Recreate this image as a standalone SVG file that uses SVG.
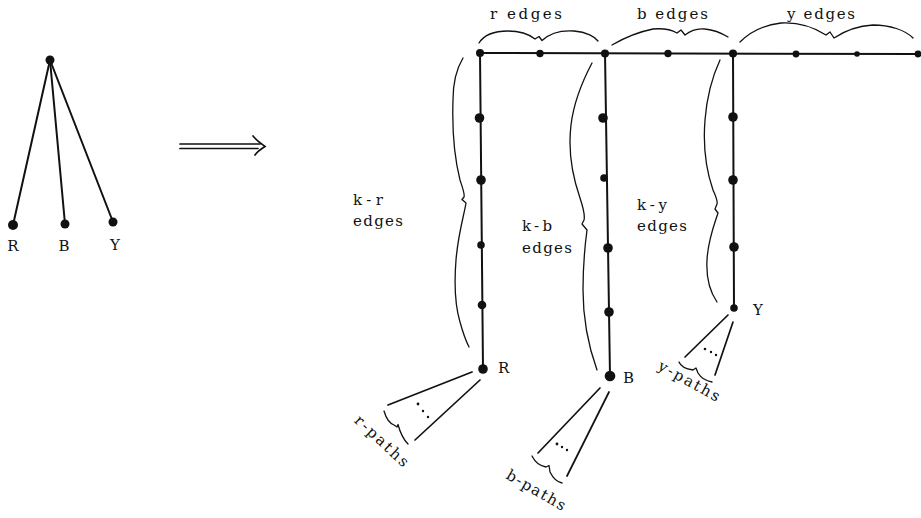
<svg xmlns="http://www.w3.org/2000/svg" width="921" height="518" viewBox="0 0 921 518">
  <style>
    .edge { stroke: #111; stroke-width: 2; fill: none; stroke-linecap: round; }
    .thin { stroke: #111; stroke-width: 1.7; fill: none; stroke-linecap: round; }
    .brace { stroke: #111; stroke-width: 1.3; fill: none; stroke-linecap: round; stroke-linejoin: round; }
    .node { fill: #111; }
    .lbl { font-family: "DejaVu Serif", "Liberation Serif", serif; font-size: 15px; fill: #111; }
  </style>
  <rect width="921" height="518" fill="#fff"/>

  <!-- small star: one root with three leaves -->
  <g id="star">
    <g id="star-edges">
      <path class="edge" d="M50,60 L13,225"/>
      <path class="edge" d="M50,60 L65,224"/>
      <path class="edge" d="M50,60 L113,222"/>
    </g>
    <g id="star-root"><circle class="node" cx="50" cy="60" r="4.5"/></g>
    <g id="star-R"><circle class="node" cx="13" cy="225" r="5"/><text class="lbl" x="13" y="251" text-anchor="middle">R</text></g>
    <g id="star-B"><circle class="node" cx="65" cy="224" r="4.5"/><text class="lbl" x="64" y="251" text-anchor="middle">B</text></g>
    <g id="star-Y"><circle class="node" cx="113" cy="222" r="4.5"/><text class="lbl" x="115" y="250" text-anchor="middle">Y</text></g>
  </g>

  <!-- implication arrow -->
  <g id="arrow">
    <path class="thin" d="M180,144 L260,144 M180,148.5 L258,148.5"/>
    <path class="thin" d="M253,136 C257,141 262,144 265,146.5 C261,149 257,152 255,155"/>
  </g>

  <!-- connectors of the expanded graph -->
  <g id="connectors">
    <path class="edge" d="M480,53 L918,54"/>
    <path class="edge" d="M480,53 L483,369"/>
    <path class="edge" d="M605,53 L610,376"/>
    <path class="edge" d="M733,53 L734,308"/>
    <!-- path fans -->
    <path class="thin" d="M472,372 L388,405 M480,380 L415,440"/>
    <path class="thin" d="M600,388 L538,453 M609,392 L567,476"/>
    <path class="thin" d="M728,315 L685,357 M733,322 L715,375"/>
  </g>

  <!-- nodes on the top path -->
  <g id="top-nodes">
    <circle class="node" cx="480" cy="53" r="4"/>
    <circle class="node" cx="540" cy="53.5" r="3.7"/>
    <circle class="node" cx="605" cy="53.5" r="4"/>
    <circle class="node" cx="668" cy="53.5" r="3.7"/>
    <circle class="node" cx="733" cy="53.5" r="4"/>
    <circle class="node" cx="796" cy="54" r="3.4"/>
    <circle class="node" cx="857" cy="54" r="2.8"/>
    <circle class="node" cx="918" cy="54" r="3.4"/>
  </g>

  <g id="column-r">
    <circle class="node" cx="479.5" cy="118" r="4.8"/>
    <circle class="node" cx="481" cy="180" r="4.8"/>
    <circle class="node" cx="481" cy="245" r="3.8"/>
    <circle class="node" cx="482" cy="305" r="4.3"/>
  </g>
  <g id="node-R">
    <circle class="node" cx="483" cy="369" r="4.8"/>
    <text class="lbl" x="498" y="373">R</text>
  </g>

  <g id="column-b">
    <circle class="node" cx="603" cy="118" r="4.8"/>
    <circle class="node" cx="604" cy="178" r="3.8"/>
    <circle class="node" cx="608" cy="248" r="4.8"/>
    <circle class="node" cx="609" cy="312" r="4.8"/>
  </g>
  <g id="node-B">
    <circle class="node" cx="610" cy="376" r="5.3"/>
    <text class="lbl" x="623" y="383">B</text>
  </g>

  <g id="column-y">
    <circle class="node" cx="733" cy="117" r="4.8"/>
    <circle class="node" cx="733" cy="180" r="4.8"/>
    <circle class="node" cx="734" cy="247" r="4.8"/>
  </g>
  <g id="node-Y">
    <circle class="node" cx="734" cy="308" r="3.8"/>
    <text class="lbl" x="753" y="315">Y</text>
  </g>

  <!-- braces along the top path -->
  <g id="brace-r-edges">
    <path class="brace" d="M479,43 C484,35 494,31 508,31 C522,31 530,35 535,39 L539,36.5 L542,40.5 C549,34 560,30 574,31 C587,32 595,37 598,41"/>
    <text class="lbl" x="490" y="19" textLength="72" lengthAdjust="spacing">r edges</text>
  </g>
  <g id="brace-b-edges">
    <path class="brace" d="M612,45 C624,38 638,32 653,29 C665,28 672,30 677,33 L681,30 L685,35 C690,31 697,28 705,29 C715,30 723,34 728,37"/>
    <text class="lbl" x="637" y="19" textLength="71" lengthAdjust="spacing">b edges</text>
  </g>
  <g id="brace-y-edges">
    <path class="brace" d="M740,42 C750,32 764,25 781,23 C799,22 815,28 826,35 L830,32 L834,38 C843,32 856,26 873,25 C890,25 905,30 913,38"/>
    <text class="lbl" x="787" y="19" textLength="68" lengthAdjust="spacing">y edges</text>
  </g>

  <!-- braces along the columns -->
  <g id="brace-k-r">
    <path class="brace" d="M463,58 C457,68 453,82 453,100 C452,130 455,160 460,180 C463,189 465,194 464,197 L462,199.5 L466,203 C464,215 458,235 456,260 C454,285 455,305 460,322 C463,333 466,341 469,347"/>
    <text class="lbl" x="353" y="205" textLength="30" lengthAdjust="spacing">k-r</text>
    <text class="lbl" x="353" y="226" textLength="50" lengthAdjust="spacing">edges</text>
  </g>
  <g id="brace-k-b">
    <path class="brace" d="M592,63 C583,80 574,100 571,125 C568,150 572,175 580,198 C584,210 585,216 584,220 L582,224 L587,230 C585,245 583,265 583,290 C583,320 588,345 597,370"/>
    <text class="lbl" x="522" y="231" textLength="30" lengthAdjust="spacing">k-b</text>
    <text class="lbl" x="522" y="253" textLength="50" lengthAdjust="spacing">edges</text>
  </g>
  <g id="brace-k-y">
    <path class="brace" d="M720,60 C713,75 707,95 705,120 C703,145 706,170 713,190 C716,197 718,201 717,204 L715,209 L718,213 C714,225 708,240 707,260 C706,278 710,292 717,302"/>
    <text class="lbl" x="637" y="210" textLength="30" lengthAdjust="spacing">k-y</text>
    <text class="lbl" x="637" y="231" textLength="50" lengthAdjust="spacing">edges</text>
  </g>

  <!-- path bundles below R, B and Y -->
  <g id="r-paths">
    <circle class="node" cx="418" cy="404" r="1.4"/>
    <circle class="node" cx="423" cy="411" r="1.2"/>
    <circle class="node" cx="428" cy="417" r="1.2"/>
    <path class="brace" d="M384,411 C386,418 389,423 394,425 L397,427 L398,424.5 C400,432 403,439 408,444"/>
    <text class="lbl" x="353.5" y="421.5" transform="rotate(43 353.5 421.5)" textLength="68" lengthAdjust="spacing">r-paths</text>
  </g>
  <g id="b-paths">
    <circle class="node" cx="557" cy="444" r="1.4"/>
    <circle class="node" cx="562" cy="447" r="1.2"/>
    <circle class="node" cx="567" cy="450" r="1.2"/>
    <path class="brace" d="M532,456 C535,462 540,466 546,467 L549,465.5 L550,472 C553,478 557,482 562,483"/>
    <text class="lbl" x="505" y="478" transform="rotate(30 505 478)" textLength="66" lengthAdjust="spacing">b-paths</text>
  </g>
  <g id="y-paths">
    <circle class="node" cx="705" cy="349" r="1.3"/>
    <circle class="node" cx="711" cy="352" r="1.2"/>
    <circle class="node" cx="716" cy="355" r="1.2"/>
    <path class="brace" d="M679,362 C681,367 686,369 693,370 L696,368 L698,373 C701,378 706,381 712,382"/>
    <text class="lbl" x="657" y="369" transform="rotate(29 657 369)" textLength="68" lengthAdjust="spacing">y-paths</text>
  </g>
</svg>
